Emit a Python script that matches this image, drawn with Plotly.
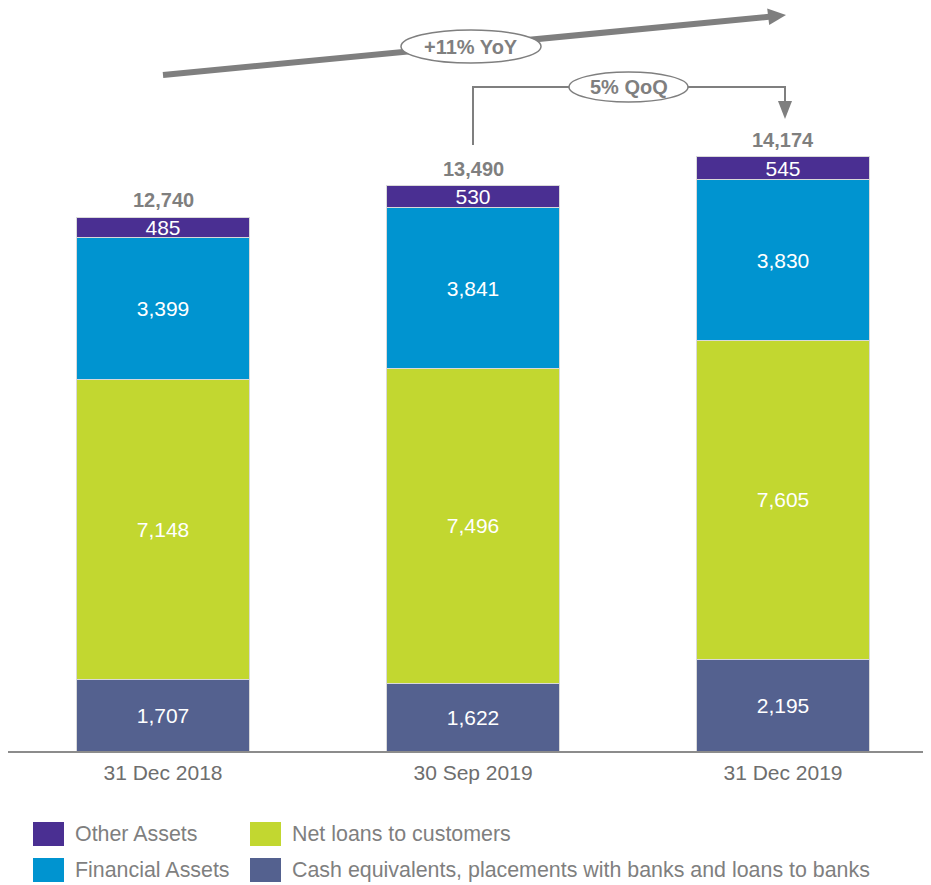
import plotly.graph_objects as go

categories = ["31 Dec 2018", "30 Sep 2019", "31 Dec 2019"]
cash = [1707, 1622, 2195]
net_loans = [7148, 7496, 7605]
financial = [3399, 3841, 3830]
other = [485, 530, 545]
totals = [12740, 13490, 14174]

series = [
    ("Cash equivalents, placements with banks and loans to banks", cash, "#54618F"),
    ("Net loans to customers", net_loans, "#C2D730"),
    ("Financial Assets", financial, "#0094D0"),
    ("Other Assets", other, "#4A2F92"),
]

FONT = "Liberation Sans, Arial, sans-serif"
GRAY = "#7F7F7F"
# page has an 8px body margin; the figure starts at page (8, 8)
W, H = 923, 877
L, R, T, B = 0, 6, 0, 134
PW, PH = W - L - R, H - T - B
K = 594 / 14174  # px per unit
YMAX = PH / K


def px(xp):  # page x -> paper
    return (xp - 8 - L) / PW


def py(yp):  # page y -> paper
    return (751 - yp) / PH


fig = go.Figure()
for name, vals, col in series:
    fig.add_trace(go.Bar(
        x=categories, y=vals, name=name,
        marker=dict(color=col, line=dict(color="#D9D9D9", width=1)),
        width=0.555,
        texttemplate="%{y:,}", textposition="inside", insidetextanchor="middle",
        textfont=dict(color="white", size=21, family=FONT),
        showlegend=False, hoverinfo="skip",
    ))

annotations = []
for c, t in zip(categories, totals):
    annotations.append(dict(x=c, y=t, xref="x", yref="y", text=f"<b>{t:,}</b>",
                            showarrow=False, yshift=17,
                            font=dict(size=20, color=GRAY, family=FONT)))

shapes = []
# YoY arrow
shapes.append(dict(type="line", xref="paper", yref="paper",
                   x0=px(163), y0=py(75), x1=px(769), y1=py(16.8),
                   line=dict(color=GRAY, width=6)))
shapes.append(dict(type="path", xref="paper", yref="paper",
                   path=f"M {px(786)} {py(15)} L {px(769.2)} {py(25)} L {px(767.2)} {py(8.5)} Z",
                   fillcolor=GRAY, line=dict(color=GRAY, width=0)))
shapes.append(dict(type="circle", xref="paper", yref="paper",
                   x0=px(401), x1=px(541), y0=py(30), y1=py(63),
                   fillcolor="white", line=dict(color=GRAY, width=1.5)))
annotations.append(dict(x=px(471), y=py(46.5), xref="paper", yref="paper",
                        text="<b>+11% YoY</b>", showarrow=False,
                        xanchor="center", yanchor="middle",
                        font=dict(size=20, color=GRAY, family=FONT)))
# QoQ connector
shapes.append(dict(type="path", xref="paper", yref="paper",
                   path=f"M {px(473)} {py(145)} L {px(473)} {py(87)} L {px(785)} {py(87)} L {px(785)} {py(103)}",
                   line=dict(color=GRAY, width=2)))
shapes.append(dict(type="path", xref="paper", yref="paper",
                   path=f"M {px(785)} {py(119)} L {px(778)} {py(101)} L {px(792)} {py(101)} Z",
                   fillcolor=GRAY, line=dict(color=GRAY, width=0)))
shapes.append(dict(type="circle", xref="paper", yref="paper",
                   x0=px(569), x1=px(688), y0=py(72), y1=py(102),
                   fillcolor="white", line=dict(color=GRAY, width=1.5)))
annotations.append(dict(x=px(628.5), y=py(87.5), xref="paper", yref="paper",
                        text="<b>5% QoQ</b>", showarrow=False,
                        xanchor="center", yanchor="middle",
                        font=dict(size=20, color=GRAY, family=FONT)))

# legend (manual, two columns)
legend_items = [
    ("Other Assets", "#4A2F92", 33, 834),
    ("Financial Assets", "#0094D0", 33, 870),
    ("Net loans to customers", "#C2D730", 250, 834),
    ("Cash equivalents, placements with banks and loans to banks", "#54618F", 250, 870),
]
for name, col, x0, yc in legend_items:
    shapes.append(dict(type="rect", xref="paper", yref="paper",
                       x0=px(x0), x1=px(x0 + 31), y0=py(yc - 12), y1=py(yc + 12),
                       fillcolor=col, line=dict(width=0)))
    annotations.append(dict(x=px(x0 + 40), y=py(yc), xref="paper", yref="paper",
                            text=name, showarrow=False, xanchor="left", yanchor="middle",
                            font=dict(size=21.4, color=GRAY, family=FONT)))

fig.update_layout(
    barmode="stack",
    width=W, height=H,
    margin=dict(l=L, r=R, t=T, b=B),
    plot_bgcolor="white", paper_bgcolor="white",
    font=dict(family=FONT, color=GRAY),
    shapes=shapes, annotations=annotations,
    uniformtext=dict(minsize=18, mode="show"),
    xaxis=dict(range=[-0.5 + (L - 0) / 310, -0.5 + PW / 310], showline=True,
               linecolor="#8C8C8C", linewidth=2, ticks="", showgrid=False,
               zeroline=False, ticklabelstandoff=2,
               tickfont=dict(size=21, color="#6E6E6E", family=FONT)),
    yaxis=dict(range=[0, YMAX], visible=False, showgrid=False, zeroline=False),
)

fig.write_html("out.html")
